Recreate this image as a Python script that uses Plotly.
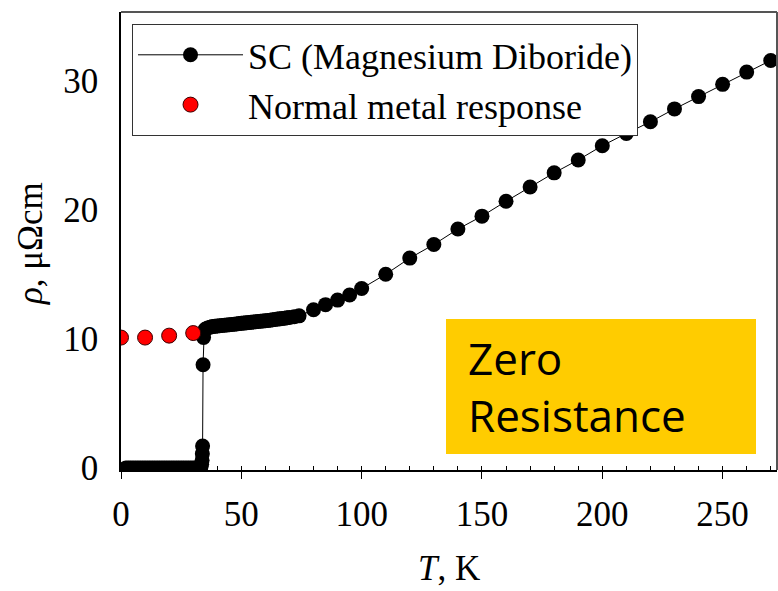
import plotly.graph_objects as go

# Superconductor (MgB2) resistivity data: T in K, rho in micro-ohm cm
sc_T = [2, 3, 4, 5, 6, 7, 8, 9, 10, 11, 12, 13, 14, 15, 16, 17, 18, 19, 20,
        21, 22, 23, 24, 25, 26, 27, 28, 29, 30, 31, 32, 33,
        33.2, 33.5, 33.7, 33.8, 33.9, 34.1, 34.3, 34.6, 35, 36, 37,
        38, 39, 40, 41, 42, 43, 44, 45, 46, 47, 48, 49, 50, 51, 52, 53, 54,
        55, 56, 57, 58, 59, 60, 61, 62, 63, 64, 65, 66, 67, 68, 69, 70,
        72, 74, 80, 85, 90, 95, 100, 110, 120, 130, 140, 150, 160, 170,
        180, 190, 200, 210, 220, 230, 240, 250, 260, 270]
sc_rho = [0, 0, 0, 0, 0, 0, 0, 0, 0, 0, 0, 0, 0, 0, 0, 0, 0, 0, 0,
          0, 0, 0, 0, 0, 0, 0, 0, 0, 0, 0, 0, 0,
          0.1, 0.3, 0.6, 1.1, 1.7, 8.0, 10.1, 10.6, 10.75, 10.85, 10.9,
          10.95, 10.97, 11.0, 11.02, 11.04, 11.06, 11.08, 11.1, 11.12, 11.14,
          11.16, 11.18, 11.2, 11.22, 11.24, 11.26, 11.28,
          11.3, 11.32, 11.34, 11.36, 11.38, 11.41, 11.43, 11.45, 11.48, 11.5,
          11.53, 11.55, 11.58, 11.6, 11.63, 11.66,
          11.72, 11.78, 12.25, 12.65, 13.0, 13.4, 13.9, 15.0, 16.25, 17.3,
          18.5, 19.5, 20.65, 21.75, 22.85, 23.85, 24.95, 25.9, 26.8, 27.8,
          28.75, 29.7, 30.65, 31.55]

# Normal metal response
nm_T = [0, 10, 20, 30]
nm_rho = [10.1, 10.1, 10.25, 10.45]

x_ticks = [0, 50, 100, 150, 200, 250]
y_ticks = [0, 10, 20, 30]

SERIF = "Liberation Serif, Times New Roman, serif"

fig = go.Figure()
fig.add_trace(go.Scatter(
    x=sc_T, y=sc_rho, mode="lines+markers",
    name="SC (Magnesium Diboride)",
    line=dict(color="black", width=1),
    marker=dict(color="black", size=15, line=dict(color="black", width=0)),
))
fig.add_trace(go.Scatter(
    x=nm_T, y=nm_rho, mode="markers",
    name="Normal metal response",
    marker=dict(color="#FF0000", size=15, line=dict(color="#3a0000", width=1)),
))

fig.update_layout(
    width=778, height=591, autosize=False,
    margin=dict(l=121, r=1, t=12, b=121),
    paper_bgcolor="white", plot_bgcolor="white",
    font=dict(family=SERIF, size=35, color="black"),
    showlegend=True,
    legend=dict(
        x=0.0168, y=0.974, xanchor="left", yanchor="top",
        bgcolor="white", bordercolor="#333333", borderwidth=1,
        font=dict(family=SERIF, size=36, color="black"),
        itemwidth=105, tracegroupgap=0,
    ),
    xaxis=dict(
        range=[0, 272.6], tickvals=x_ticks, ticktext=[str(v) for v in x_ticks],
        ticks="outside", ticklen=7, tickwidth=1, tickcolor="black",
        minor=dict(ticks="inside", ticklen=4, dtick=10, tick0=0, tickcolor="black", tickwidth=1),
        showline=True, linecolor="black", linewidth=1.5,
        showgrid=False, zeroline=False,
        tickfont=dict(family=SERIF, size=35, color="black"),
        ticklabelstandoff=5,
    ),
    yaxis=dict(
        range=[-0.15, 35.3], tickvals=y_ticks, ticktext=[str(v) for v in y_ticks],
        ticks="", showline=True, linecolor="black", linewidth=1.5,
        showgrid=False, zeroline=False,
        tickfont=dict(family=SERIF, size=35, color="black"),
        ticklabelstandoff=14,
    ),
    shapes=[
        dict(type="line", xref="paper", yref="paper", x0=0, x1=1, y0=1, y1=1,
             line=dict(color="#555555", width=2)),
        dict(type="line", xref="paper", yref="paper", x0=1, x1=1, y0=0, y1=1,
             line=dict(color="#555555", width=2)),
        dict(type="rect", xref="paper", yref="paper",
             x0=(446 - 121) / 656, x1=(756 - 121) / 656,
             y0=(470 - 454) / 458, y1=(470 - 319) / 458,
             fillcolor="#FFCC00", line=dict(width=0), layer="above"),
    ],
    annotations=[
        dict(text="Zero<br>Resistance", xref="paper", yref="paper",
             x=(466 - 121) / 656, y=(470 - 386) / 458, xanchor="left", yanchor="middle",
             align="left", showarrow=False,
             font=dict(family="Open Sans, sans-serif", size=44, color="black")),
        dict(text="<i>ρ</i>, μΩcm", xref="paper", yref="paper",
             x=(30 - 121) / 656, y=(470 - 243) / 458, xanchor="center", yanchor="middle",
             textangle=-90, showarrow=False,
             font=dict(family=SERIF, size=35, color="black")),
        dict(text="<i>T</i>, K", xref="paper", yref="paper",
             x=(449 - 121) / 656, y=(470 - 590) / 458, xanchor="center", yanchor="bottom",
             showarrow=False,
             font=dict(family=SERIF, size=35, color="black")),
    ],
)

fig.write_html("out.html")
